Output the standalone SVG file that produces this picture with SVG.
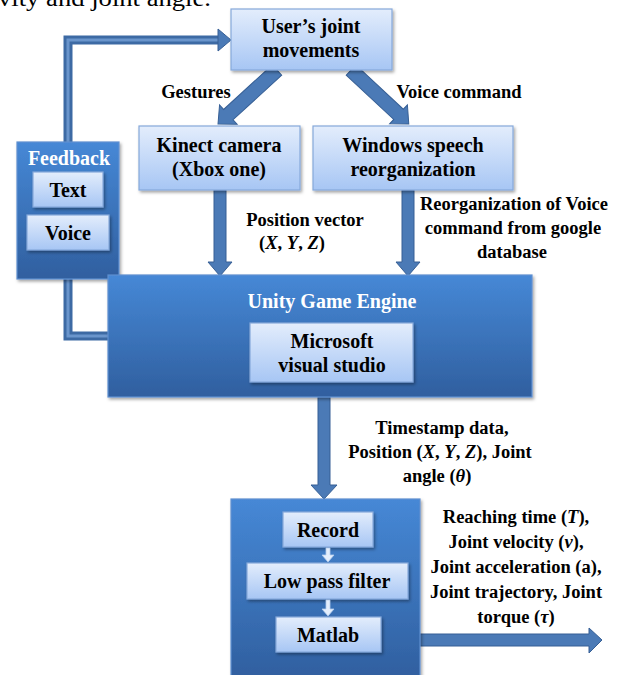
<svg xmlns="http://www.w3.org/2000/svg" width="624" height="675" viewBox="0 0 624 675">
<defs>
<linearGradient id="light" x1="0" y1="0" x2="0" y2="1">
<stop offset="0" stop-color="#e3edfc"/>
<stop offset="1" stop-color="#a7c6f4"/>
</linearGradient>
<linearGradient id="dark" x1="0" y1="0" x2="0" y2="1">
<stop offset="0" stop-color="#4688d6"/>
<stop offset="1" stop-color="#305f9f"/>
</linearGradient>
<filter id="sh" x="-10%" y="-10%" width="125%" height="130%">
<feDropShadow dx="1.5" dy="2" stdDeviation="1.5" flood-color="#000" flood-opacity="0.35"/>
</filter>
<style>
.lt{fill:url(#light);stroke:#86a9da;stroke-width:1.2;filter:url(#sh)}
.dk{fill:url(#dark);stroke:#5f8fd0;stroke-width:1.2;filter:url(#sh)}
text{font-family:"Liberation Serif","Times New Roman",serif;font-weight:bold;text-anchor:middle;fill:#000}
.n{font-size:20px}
.w{fill:#fff;font-size:20px}
.lb{font-size:18.5px}
.arr{fill:#4b7ab6;stroke:#365f95;stroke-width:1}
.sm{fill:#e4eefc;stroke:#b5cdee;stroke-width:0.8}
</style>
</defs>
<text x="-2" y="6" textLength="213" lengthAdjust="spacingAndGlyphs" style="font-weight:normal;font-size:24px;text-anchor:start">vity and joint angle.</text>
<g id="connectors">
<path d="M108,336 H68 V40 H220" fill="none" stroke="#3d6aa4" stroke-width="9"/>
<path d="M108,336 H68 V40 H220" fill="none" stroke="#6a95cc" stroke-width="3"/>
<polygon points="218,29 231,40 218,51" class="arr"/>
<polygon points="0,-7 66,-7 66,-13 80,0 66,13 66,7 0,7" class="arr" transform="translate(277,70) rotate(137.5)"/>
<polygon points="0,-7 65,-7 65,-13 79,0 65,13 65,7 0,7" class="arr" transform="translate(351,70) rotate(43)"/>
<polygon points="214,190 226,190 226,262 232,262 220,276 208,262 214,262" class="arr"/>
<polygon points="402,190 414,190 414,262 420,262 408,276 396,262 402,262" class="arr"/>
<polygon points="318,397 330,397 330,485 337,485 324,499 311,485 318,485" class="arr"/>
<polygon points="420,634 589,634 589,628 602,640 589,653 589,646 420,646" class="arr"/>
</g>
<g id="user">
<rect x="231" y="9" width="161" height="61" class="lt"/>
<text x="311" y="33" class="n">User’s joint</text>
<text x="311" y="57" class="n">movements</text>
</g>
<text x="196" y="98" class="lb">Gestures</text>
<text x="459" y="98" class="lb">Voice command</text>
<g id="kinect">
<rect x="139" y="126" width="161" height="64" class="lt"/>
<text x="219" y="152" class="n">Kinect camera</text>
<text x="219" y="176" class="n">(Xbox one)</text>
</g>
<g id="speech">
<rect x="313" y="126" width="200" height="64" class="lt"/>
<text x="413" y="152" class="n">Windows speech</text>
<text x="413" y="176" class="n">reorganization</text>
</g>
<g id="feedback">
<rect x="17" y="142" width="102" height="137" class="dk"/>
<text x="69" y="165" class="w">Feedback</text>
<rect x="33" y="172" width="70" height="35" class="lt"/>
<text x="68" y="197" class="n">Text</text>
<rect x="27" y="215" width="82" height="35" class="lt"/>
<text x="68" y="240" class="n">Voice</text>
</g>
<text x="305" y="226" class="lb">Position vector</text>
<text x="292" y="249" class="lb">(<tspan font-style="italic">X</tspan>, <tspan font-style="italic">Y</tspan>, <tspan font-style="italic">Z</tspan>)</text>
<text x="514" y="210" class="lb">Reorganization of Voice</text>
<text x="513" y="234" class="lb">command from google</text>
<text x="512" y="258" class="lb">database</text>
<g id="unity">
<rect x="108" y="275" width="424" height="122" class="dk"/>
<text x="332" y="308" class="w">Unity Game Engine</text>
<rect x="250" y="323" width="163" height="59" class="lt"/>
<text x="332" y="348" class="n">Microsoft</text>
<text x="332" y="372" class="n">visual studio</text>
</g>
<text x="442" y="434" class="lb">Timestamp data,</text>
<text x="440" y="458" class="lb">Position (<tspan font-style="italic">X</tspan>, <tspan font-style="italic">Y</tspan>, <tspan font-style="italic">Z</tspan>), Joint</text>
<text x="437" y="482" class="lb">angle (<tspan font-style="italic">θ</tspan>)</text>
<g id="processing">
<rect x="231" y="499" width="189" height="180" class="dk"/>
<rect x="283" y="512" width="90" height="35" class="lt"/>
<text x="328" y="537" class="n">Record</text>
<polygon points="326,548 330,548 330,555 334,555 328,562 322,555 326,555" class="sm"/>
<rect x="247" y="563" width="161" height="36" class="lt"/>
<text x="327" y="588" class="n">Low pass filter</text>
<polygon points="326,600 330,600 330,609 334,609 328,616 322,609 326,609" class="sm"/>
<rect x="276" y="617" width="105" height="35" class="lt"/>
<text x="328" y="642" class="n">Matlab</text>
</g>
<text x="516" y="523" class="lb">Reaching time (<tspan font-style="italic">T</tspan>),</text>
<text x="516" y="548" class="lb">Joint velocity (<tspan font-style="italic">v</tspan>),</text>
<text x="516" y="573" class="lb">Joint acceleration (a),</text>
<text x="516" y="598" class="lb">Joint trajectory, Joint</text>
<text x="516" y="623" class="lb">torque (<tspan font-style="italic">τ</tspan>)</text>
</svg>
